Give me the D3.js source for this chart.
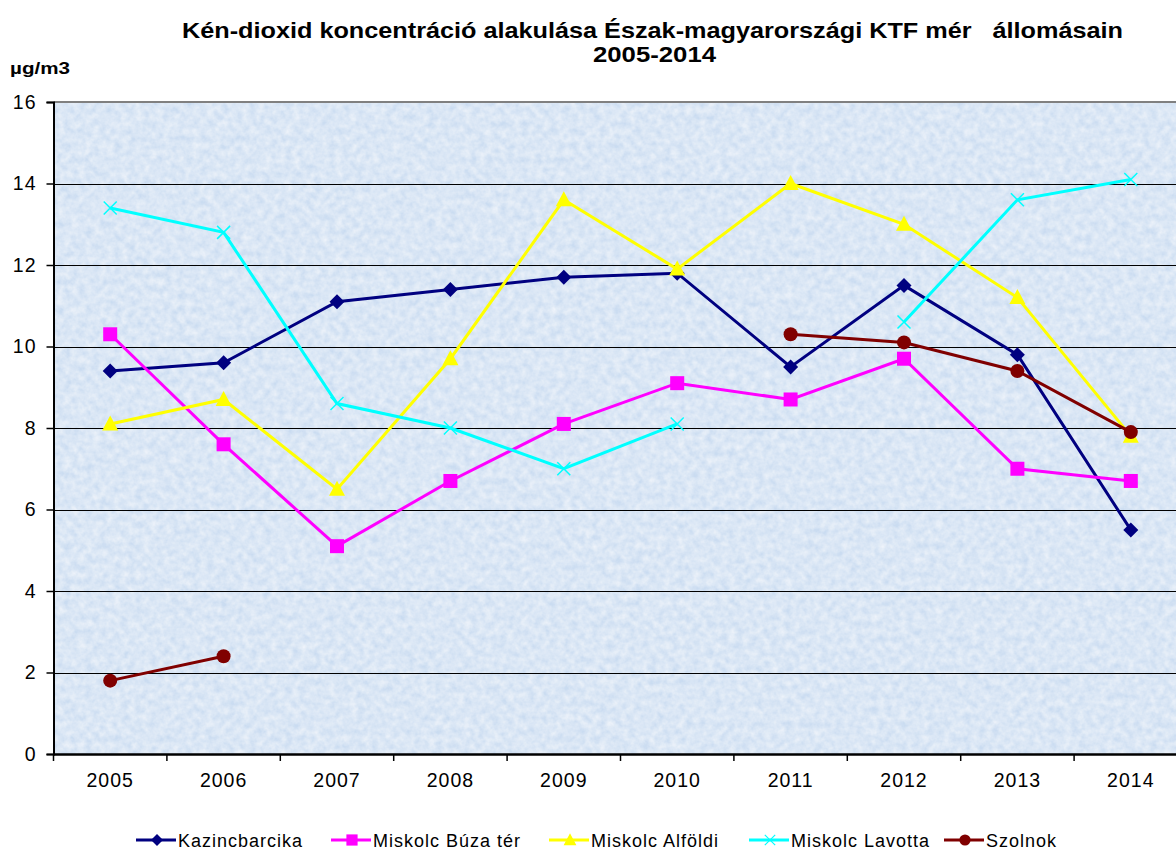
<!DOCTYPE html>
<html>
<head>
<meta charset="utf-8">
<script src="https://cdn.jsdelivr.net/npm/d3@7"></script>
<style>
  body { margin: 0; background: #fff; }
  svg { display: block; font-family: "Liberation Sans", Arial, sans-serif; }
</style>
</head>
<body>
<div id="chart"></div>
<script>
// ---- data ----
var years = ["2005","2006","2007","2008","2009","2010","2011","2012","2013","2014"];
var kazincbarcika = [9.4, 9.6, 11.1, 11.4, 11.7, 11.8, 9.5, 11.5, 9.8, 5.5];
var buzaTer      = [10.3, 7.6, 5.1, 6.7, 8.1, 9.1, 8.7, 9.7, 7.0, 6.7];
var alfoldi      = [8.1, 8.7, 6.5, 9.7, 13.6, 11.9, 14.0, 13.0, 11.2, 7.8];
var lavotta      = [13.4, 12.8, 8.6, 8.0, 7.0, 8.1, null, 10.6, 13.6, 14.1];
var szolnok      = [1.8, 2.4, null, null, null, null, 10.3, 10.1, 9.4, 7.9];
var yTicks = [0, 2, 4, 6, 8, 10, 12, 14, 16];

var series = [
  {name: "Kazincbarcika",     values: kazincbarcika, color: "#000080", marker: "diamond"},
  {name: "Miskolc Búza tér",  values: buzaTer,       color: "#ff00ff", marker: "square"},
  {name: "Miskolc Alföldi",   values: alfoldi,       color: "#ffff00", marker: "triangle"},
  {name: "Miskolc Lavotta",   values: lavotta,       color: "#00ffff", marker: "x"},
  {name: "Szolnok",           values: szolnok,       color: "#800000", marker: "circle"}
];

var W = 1176, H = 850;
var plot = {left: 53.5, top: 102, bottom: 754, band: 113.4};
plot.right = plot.left + plot.band * years.length;

var svg = d3.select("#chart").append("svg")
  .attr("width", W).attr("height", H);

var x = d3.scaleBand().domain(years).range([plot.left, plot.right]);
var y = d3.scaleLinear().domain([0, 16]).range([plot.bottom, plot.top]);

// textured light blue background
var defs = svg.append("defs");
var f = defs.append("filter").attr("id", "tex")
  .attr("x", 0).attr("y", 0).attr("width", 1).attr("height", 1);
f.append("feTurbulence").attr("type", "fractalNoise")
  .attr("baseFrequency", 0.14).attr("numOctaves", 3).attr("seed", 7).attr("result", "n");
f.append("feColorMatrix").attr("in", "n").attr("type", "matrix")
  .attr("values", "0 0 0 0 1  0 0 0 0 1  0 0 0 0 1  0.8 0 0 0 -0.12").attr("result", "w");
f.append("feComposite").attr("in", "w").attr("in2", "SourceGraphic").attr("operator", "atop");

svg.append("rect")
  .attr("x", plot.left).attr("y", plot.top)
  .attr("width", plot.right - plot.left).attr("height", plot.bottom - plot.top)
  .attr("fill", "#cadcf1")
  .attr("filter", "url(#tex)");

// gridlines
svg.append("g").selectAll("line")
  .data(yTicks.filter(function(d) { return d > 0 && d < 16; }))
  .enter().append("line")
  .attr("x1", plot.left).attr("x2", plot.right)
  .attr("y1", function(d) { return Math.round(y(d)) + 0.5; })
  .attr("y2", function(d) { return Math.round(y(d)) + 0.5; })
  .attr("stroke", "#000").attr("stroke-width", 1.2);

// top border
svg.append("line")
  .attr("x1", plot.left).attr("x2", plot.right)
  .attr("y1", plot.top).attr("y2", plot.top)
  .attr("stroke", "#808080").attr("stroke-width", 2);

// y axis
var yAxis = svg.append("g")
  .attr("transform", "translate(" + plot.left + ",0)")
  .call(d3.axisLeft(y).tickValues(yTicks).tickSize(7).tickPadding(10));
yAxis.select(".domain").attr("stroke", "#000").attr("stroke-width", 2);
yAxis.selectAll(".tick line").attr("stroke", "#000").attr("stroke-width", 1.5);
yAxis.selectAll("text").attr("font-size", 19.5).attr("fill", "#000")
  .attr("letter-spacing", 1)
  .attr("font-family", "Liberation Sans, Arial, sans-serif");

// x axis
var xAxis = svg.append("g")
  .attr("transform", "translate(0," + plot.bottom + ")")
  .call(d3.axisBottom(x).tickSize(0).tickPadding(19));
xAxis.select(".domain").attr("stroke", "#000").attr("stroke-width", 2.5);
xAxis.selectAll("text").attr("font-size", 19.5).attr("fill", "#000")
  .attr("letter-spacing", 1)
  .attr("font-family", "Liberation Sans, Arial, sans-serif");
xAxis.selectAll(".edge").data(years.map(function(d) { return x(d); }).concat([plot.right]))
  .enter().append("line").attr("class", "edge")
  .attr("x1", function(d) { return d; }).attr("x2", function(d) { return d; })
  .attr("y1", 0).attr("y2", 7)
  .attr("stroke", "#000").attr("stroke-width", 1.5);

// lines
var cx = function(i) { return x(years[i]) + x.bandwidth() / 2; };
var line = d3.line()
  .defined(function(d) { return d != null; })
  .x(function(d, i) { return cx(i); })
  .y(function(d) { return y(d); });

function drawMarker(g, type, color, k) {
  k = k || 1;
  if (type === "diamond") {
    g.append("path").attr("d", "M0,-7.5L7.5,0L0,7.5L-7.5,0Z").attr("transform", "scale(" + k + ")").attr("fill", color);
  } else if (type === "square") {
    g.append("rect").attr("x", -7 * k).attr("y", -7 * k).attr("width", 14 * k).attr("height", 14 * k).attr("fill", color);
  } else if (type === "triangle") {
    g.append("path").attr("d", "M0,-8.5L8,6.5L-8,6.5Z").attr("transform", "scale(" + k + ")").attr("fill", color);
  } else if (type === "x") {
    g.append("path").attr("d", "M-6.5,-6.5L6.5,6.5M-6.5,6.5L6.5,-6.5").attr("transform", "scale(" + k + ")")
      .attr("stroke", color).attr("stroke-width", 1.5);
  } else if (type === "circle") {
    g.append("circle").attr("r", 7 * k).attr("fill", color);
  }
}

series.forEach(function(s) {
  var g = svg.append("g");
  g.append("path").datum(s.values)
    .attr("d", line)
    .attr("fill", "none")
    .attr("stroke", s.color)
    .attr("stroke-width", 3);
  s.values.forEach(function(v, i) {
    if (v == null) return;
    var m = g.append("g").attr("transform", "translate(" + cx(i) + "," + y(v) + ")");
    drawMarker(m, s.marker, s.color);
  });
});

// title
svg.append("text")
  .attr("x", 182).attr("y", 38)
  .attr("font-weight", "bold").attr("font-size", 22)
  .attr("textLength", 941).attr("lengthAdjust", "spacingAndGlyphs")
  .style("white-space", "pre")
  .text("Kén-dioxid koncentráció alakulása Észak-magyarországi KTF mér   állomásain");
svg.append("text")
  .attr("x", 593).attr("y", 62)
  .attr("font-weight", "bold").attr("font-size", 22)
  .attr("textLength", 123).attr("lengthAdjust", "spacingAndGlyphs")
  .text("2005-2014");

svg.append("text").attr("x", 10).attr("y", 74)
  .attr("font-weight", "bold").attr("font-size", 17)
  .attr("textLength", 60).attr("lengthAdjust", "spacingAndGlyphs")
  .text("µg/m3");

// legend
var legendX = [157, 352, 570, 770, 965];
var leg = svg.append("g").selectAll("g").data(series).enter().append("g")
  .attr("transform", function(d, i) { return "translate(" + legendX[i] + ",840)"; });
leg.append("line").attr("x1", -21).attr("x2", 19).attr("y1", 0).attr("y2", 0)
  .attr("stroke", function(d) { return d.color; }).attr("stroke-width", 3);
leg.each(function(d) {
  drawMarker(d3.select(this).append("g"), d.marker, d.color, 0.8);
});
leg.append("text").attr("x", 21).attr("y", 6.5)
  .attr("font-size", 18).attr("letter-spacing", 1)
  .text(function(d) { return d.name; });
</script>
</body>
</html>
